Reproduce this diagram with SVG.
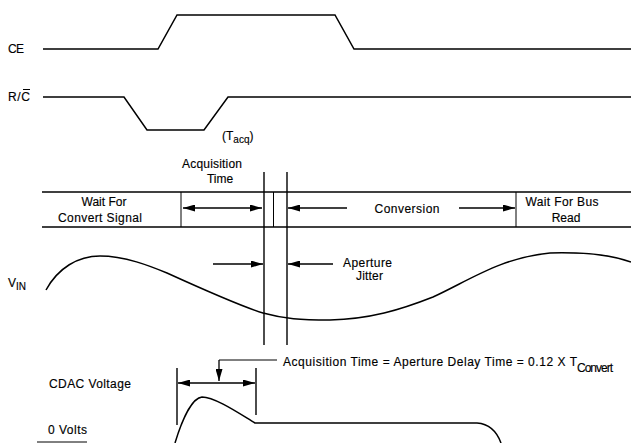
<svg xmlns="http://www.w3.org/2000/svg" width="631" height="443" viewBox="0 0 631 443">
<defs>
<marker id="ah" viewBox="0 0 12 7" refX="12" refY="3.5" markerWidth="12" markerHeight="7" markerUnits="userSpaceOnUse" orient="auto-start-reverse">
<path d="M0,0 L12,3.5 L0,7 Z" fill="#000"/>
</marker>
</defs>
<style>
text{font-family:"Liberation Sans",Arial,sans-serif;font-size:12px;fill:#000;stroke:#000;stroke-width:0.15}
.sig{fill:none;stroke:#000;stroke-width:1.5}
.ln{fill:none;stroke:#000;stroke-width:1.4}
.thin{fill:none;stroke:#000;stroke-width:1}
.arr{fill:none;stroke:#000;stroke-width:1.3}
.sub{font-size:10px}
</style>
<rect width="631" height="443" fill="#fff"/>

<g id="ce">
<text x="8" y="53" textLength="16">CE</text>
<path class="sig" d="M43,49 L158,49 L177,15 L335,15 L354,49 L631,49"/>
</g>

<g id="rc">
<text x="8" y="101" textLength="22">R/C</text>
<line class="thin" x1="23" y1="89.5" x2="30" y2="89.5"/>
<path class="sig" d="M43,97 L124,97 L147,130 L204,130 L228,97 L631,97"/>
<text x="222" y="140">(T<tspan class="sub" dy="3">acq</tspan><tspan dy="-3">)</tspan></text>
</g>

<g id="acq-label">
<text x="212" y="168" text-anchor="middle" textLength="60">Acquisition</text>
<text x="220" y="183" text-anchor="middle">Time</text>
</g>

<g id="state-bar">
<line class="ln" x1="42" y1="192" x2="631" y2="192"/>
<line class="ln" x1="42" y1="227" x2="631" y2="227"/>
<line class="thin" x1="181" y1="192" x2="181" y2="227"/>
<line class="thin" x1="273.5" y1="192" x2="273.5" y2="227"/>
<line class="thin" x1="516" y1="192" x2="516" y2="227"/>
<text x="104" y="206" text-anchor="middle">Wait For</text>
<text x="100" y="222" text-anchor="middle" textLength="84">Convert Signal</text>
<text x="407" y="213" text-anchor="middle" textLength="65">Conversion</text>
<text x="562" y="206" text-anchor="middle" textLength="73">Wait For Bus</text>
<text x="566" y="222" text-anchor="middle">Read</text>
</g>

<g id="timing-lines">
<line class="ln" x1="264" y1="172" x2="264" y2="345"/>
<line class="ln" x1="287" y1="172" x2="287" y2="345"/>
</g>

<g id="vin">
<text x="8" y="287" font-size="11">V<tspan class="sub" dy="3">IN</tspan></text>
<path class="sig" d="M46,290 C58,268 78,256 100,256 C125,256 150,266 167,273 C200,288 240,306 263,313 C285,319 300,320 330,320 C370,319 400,310 433,297 C470,280 500,258 550,253 C590,252 615,256 631,262"/>
<text x="343" y="267" font-size="11" textLength="49">Aperture</text>
<text x="356" y="280" font-size="11" textLength="27">Jitter</text>
</g>

<g id="cdac">
<text x="49" y="388" textLength="82">CDAC Voltage</text>
<text x="48" y="434" textLength="39">0 Volts</text>
<line class="thin" x1="37" y1="442" x2="87" y2="442"/>
<line class="ln" x1="177" y1="368" x2="177" y2="425"/>
<line class="ln" x1="256" y1="368" x2="256" y2="415"/>
<path class="sig" d="M175,443 C182,420 192,398 202,397 C215,397 240,414 255,423 L477,423 C490,424 497,432 501,443"/>
<text x="283" y="366" textLength="294">Acquisition Time = Aperture Delay Time = 0.12 X T</text>
<text x="577" y="372" textLength="36" font-size="11">Convert</text>
</g>

<g id="connectors">
<line class="arr" x1="183" y1="208" x2="262" y2="208" marker-start="url(#ah)" marker-end="url(#ah)"/>
<line class="arr" x1="347" y1="208" x2="288" y2="208" marker-end="url(#ah)"/>
<line class="arr" x1="459" y1="208" x2="515" y2="208" marker-end="url(#ah)"/>
<line class="arr" x1="213" y1="264" x2="263" y2="264" marker-end="url(#ah)"/>
<line class="arr" x1="333" y1="264" x2="288" y2="264" marker-end="url(#ah)"/>
<line class="thin" x1="219" y1="360" x2="277" y2="360"/>
<line class="arr" x1="219" y1="360" x2="219" y2="381" marker-end="url(#ah)"/>
<line class="arr" x1="178" y1="383" x2="255" y2="383" marker-start="url(#ah)" marker-end="url(#ah)"/>
</g>
</svg>
